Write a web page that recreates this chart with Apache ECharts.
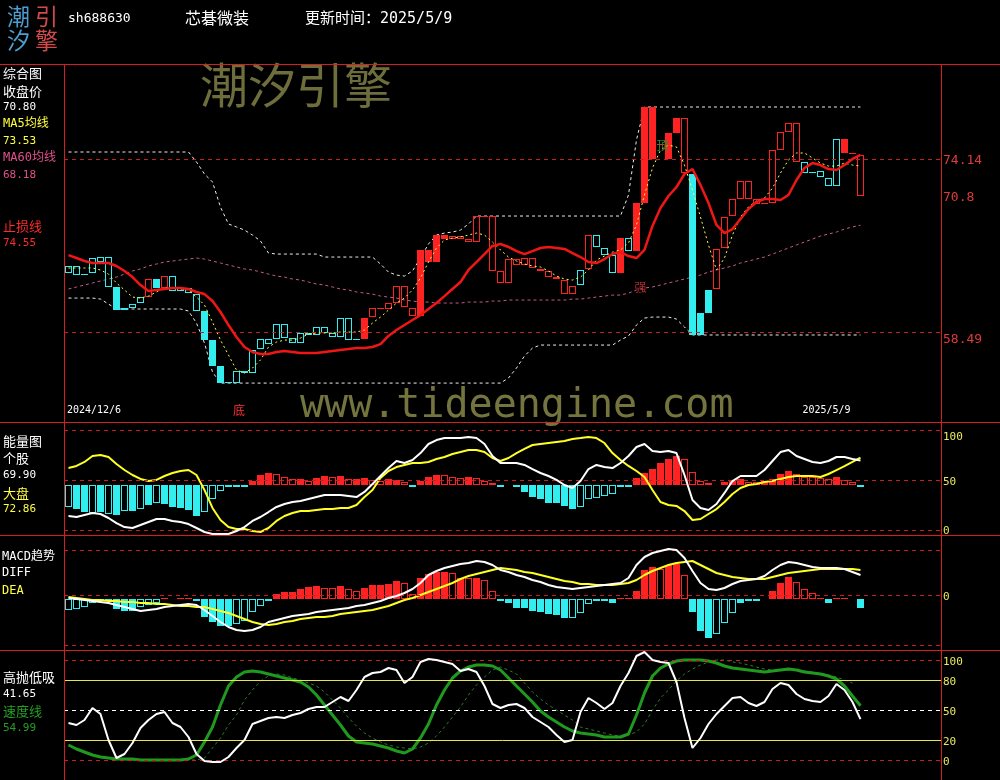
<!DOCTYPE html>
<html><head><meta charset="utf-8">
<script src="https://cdn.jsdelivr.net/npm/echarts@6/dist/echarts.min.js"></script>
<style>html,body{margin:0;padding:0;background:#000;}#c{width:1000px;height:780px;}</style>
</head><body><div id="c"></div>
<script>
// ---------------- DATA ----------------
const stockCode = 'sh688630';
const stockName = '芯碁微装';
const updateTime = '2025/5/9';
const dateLabels = ['2024/12/6', '2025/5/9'];

const candleOpen = [63.85,63.67,63.76,63.85,64.85,62.59,62.59,60.68,60.68,61.14,
61.68,63.31,62.50,62.23,62.23,62.04,60.42,60.42,57.79,55.44,
53.98,53.90,54.81,54.81,56.98,57.43,57.88,57.97,57.52,57.52,
58.25,58.25,58.43,58.07,58.07,57.79,57.88,57.88,59.87,60.60,
60.60,61.14,60.78,59.96,59.96,64.85,64.85,66.93,66.93,66.93,
66.66,66.66,68.92,64.04,62.95,62.95,64.58,64.58,64.31,64.04,
63.49,63.31,61.95,61.95,62.77,64.22,66.21,65.48,63.85,63.85,
65.84,65.84,70.19,74.17,75.50,74.17,76.52,77.88,72.81,60.24,
62.32,62.41,66.12,69.01,70.55,70.55,70.10,70.10,70.19,74.98,
76.61,77.42,73.90,72.90,72.54,71.72,71.72,75.98,74.71,74.53];
const candleClose = [64.49,64.49,63.67,65.21,65.30,65.30,60.51,60.51,61.05,61.68,
63.31,62.50,63.58,63.58,62.50,62.50,61.95,57.79,55.44,53.90,
53.90,54.99,54.99,56.89,57.88,57.88,59.24,59.24,57.97,58.43,
58.43,58.97,58.97,58.43,59.78,59.78,57.79,59.78,60.68,60.68,
61.14,62.68,62.68,60.68,65.94,65.94,67.29,67.29,67.20,67.20,
66.93,69.01,69.01,69.01,64.04,65.12,65.12,65.21,65.21,64.22,
64.04,63.49,63.22,62.68,64.13,67.29,67.29,66.12,65.48,67.02,
67.02,70.19,78.87,78.87,75.45,76.52,77.88,72.90,58.25,58.25,
60.24,66.03,68.92,70.55,72.18,72.18,70.55,70.19,74.98,76.61,
77.42,73.90,72.90,72.99,73.08,72.45,75.98,74.71,74.62,70.80];
// R = red, C = cyan ; F = filled, H = hollow
const candleKind = ['CH','CH','CF','CH','CH','CH','CF','CF','CH','CH',
'RH','CF','RH','CH','CH','CH','CH','CF','CF','CF',
'CF','CH','CH','CH','CH','CH','CH','CH','CH','CH',
'CH','CH','CH','CH','CH','CH','CF','RF','RH','RH',
'RH','RH','RH','RH','RF','RF','RF','RF','RH','RH',
'RH','RH','RH','RH','RH','RH','RH','RH','RH','RH',
'RH','RH','RH','RH','CH','RH','CH','CH','CH','RF',
'CH','RF','RF','RF','RF','RF','RF','RH','CF','CF',
'CF','RH','RH','RH','RH','RH','RH','RH','RH','RH',
'RH','RH','CH','CH','CH','CH','CH','RF','RF','RH'];

const stopLine = [65.48,65.21,64.94,64.76,64.76,64.76,64.49,64.04,63.49,62.77,
62.23,62.32,62.41,62.50,62.50,62.41,62.14,61.95,61.32,60.33,
59.15,58.07,57.16,56.71,56.53,56.53,56.71,56.80,56.71,56.62,
56.62,56.62,56.71,56.80,56.89,56.98,57.07,57.07,57.16,57.43,
58.16,58.70,59.15,59.60,60.05,60.60,61.14,61.77,62.41,63.04,
64.13,64.85,65.57,66.30,66.48,66.21,65.84,65.57,65.84,66.12,
66.21,66.12,66.03,65.66,65.30,64.85,64.76,65.12,65.57,65.75,
65.39,65.21,65.94,68.11,69.73,70.82,71.63,72.81,73.26,71.81,
70.19,68.20,67.47,67.83,68.74,69.64,70.28,70.55,70.55,70.46,
70.91,72.27,73.35,73.80,73.62,73.26,73.17,73.62,74.17,74.55];
const ma5 = [64.31,64.31,64.31,64.31,64.13,63.76,62.95,62.32,61.68,61.59,
61.77,62.14,62.50,62.50,62.41,62.32,61.68,60.96,59.42,57.79,
56.44,55.08,54.81,55.26,55.99,57.16,57.61,57.79,57.79,57.97,
58.34,58.43,58.43,58.43,58.52,58.52,58.52,58.70,59.33,59.87,
60.51,61.14,61.59,62.32,63.40,64.85,66.12,66.84,67.02,67.11,
67.29,67.47,67.29,66.66,65.94,65.30,64.94,64.67,64.49,64.40,
64.04,63.58,63.31,63.22,63.49,64.13,65.03,65.39,65.75,65.94,
66.57,68.20,70.91,73.35,74.98,75.43,75.25,73.62,71.36,68.92,
66.39,64.13,65.21,67.29,68.92,69.83,70.37,70.64,71.54,72.90,
74.08,74.71,74.71,74.26,73.80,73.53,73.53,73.80,73.62,73.53];
const ma60 = [62.41,62.59,62.77,62.95,63.13,63.31,63.49,63.76,64.04,64.22,
64.49,64.67,64.85,64.94,65.03,65.12,65.21,65.12,64.94,64.76,
64.58,64.40,64.22,64.13,63.95,63.76,63.58,63.49,63.31,63.22,
63.04,62.86,62.77,62.59,62.41,62.32,62.14,62.04,61.95,61.77,
61.68,61.59,61.41,61.32,61.23,61.23,61.14,61.14,61.14,61.14,
61.23,61.23,61.23,61.32,61.32,61.41,61.41,61.41,61.41,61.41,
61.41,61.41,61.41,61.50,61.50,61.59,61.68,61.77,61.86,61.86,
62.04,62.32,62.50,62.59,62.77,62.95,63.13,63.31,63.49,63.67,
63.95,64.13,64.31,64.49,64.76,64.94,65.12,65.30,65.57,65.84,
66.12,66.39,66.66,66.93,67.20,67.38,67.56,67.83,68.02,68.18];
const upperBand = [74.80,74.80,74.80,74.80,74.80,74.80,74.80,74.80,74.80,74.80,
74.80,74.80,74.80,74.80,74.80,74.80,73.90,72.81,72.09,69.82,
68.29,68.02,67.74,67.29,66.75,65.66,65.57,65.57,65.57,65.57,
65.57,65.57,65.30,65.30,65.30,65.30,65.30,65.30,65.30,64.67,
63.94,63.67,63.58,64.04,65.21,66.48,67.29,67.47,67.56,67.74,
68.29,69.01,69.01,69.01,69.01,69.01,69.01,69.01,69.01,69.01,
69.01,69.01,69.01,69.01,69.01,69.01,69.01,69.01,69.01,69.01,
70.91,75.89,78.87,78.87,78.87,78.87,78.87,78.87,78.87,78.87,
78.87,78.87,78.87,78.87,78.87,78.87,78.87,78.87,78.87,78.87,
78.87,78.87,78.87,78.87,78.87,78.87,78.87,78.87,78.87,78.87];
const lowerBand = [61.59,61.59,61.59,61.59,61.50,61.05,60.60,60.60,60.60,60.60,
60.60,60.60,60.60,60.60,60.60,60.42,59.33,57.52,54.90,53.90,
53.90,53.90,53.90,53.90,53.90,53.90,53.90,53.90,53.90,53.90,
53.90,53.90,53.90,53.90,53.90,53.90,53.90,53.90,53.90,53.90,
53.90,53.90,53.90,53.90,53.90,53.90,53.90,53.90,53.90,53.90,
53.90,53.90,53.90,53.90,53.90,54.36,55.26,56.35,57.07,57.34,
57.34,57.34,57.34,57.34,57.34,57.34,57.34,57.34,57.34,57.79,
58.16,59.15,59.78,59.87,59.87,59.87,59.69,58.97,58.25,58.25,
58.25,58.25,58.25,58.25,58.25,58.25,58.25,58.25,58.25,58.25,
58.25,58.25,58.25,58.25,58.25,58.25,58.25,58.25,58.25,58.25];
const priceLevels = [74.14, 70.8, 58.49];

// 能量图
const energyStock = [14.1,13.1,15.1,17.1,16.1,12.1,7.0,3.0,2.0,5.0,
8.1,11.1,11.1,9.1,8.1,6.0,2.0,-2.0,-4.0,-4.0,
-4.0,-1.0,3.0,9.1,13.1,18.1,23.2,26.2,28.2,29.2,
31.2,33.2,35.2,35.2,35.2,34.2,33.2,38.3,46.3,54.4,
62.4,69.5,67.5,70.5,77.5,86.6,90.6,92.6,92.6,92.6,
93.7,92.6,86.6,74.5,67.5,67.5,67.5,65.5,61.4,57.4,
54.4,50.4,45.3,42.3,49.3,61.4,65.5,63.4,62.4,67.5,
74.5,83.6,86.6,79.6,78.5,79.6,77.5,55.4,30.2,22.2,
20.1,26.2,37.3,49.3,54.4,54.4,54.4,60.4,69.5,78.5,
80.6,74.5,71.5,68.5,67.5,69.5,73.5,73.5,71.5,69.90];
const energyMarket = [62.4,64.5,68.5,74.5,75.5,73.5,66.5,60.4,55.4,51.4,
49.3,50.4,54.4,57.4,59.4,60.4,55.4,40.3,22.2,10.1,
3.0,1.0,1.0,-1.0,-2.0,2.0,9.1,14.1,17.1,19.1,
19.1,20.1,21.1,21.1,22.2,22.2,25.2,33.2,40.3,52.4,
59.4,63.4,65.5,67.5,67.5,68.5,71.5,73.5,76.5,78.5,
80.6,80.6,78.5,72.5,69.5,72.5,77.5,81.6,85.6,86.6,
87.6,88.6,89.6,91.6,92.6,93.7,92.6,87.6,77.5,70.5,
64.5,59.4,53.4,40.3,28.2,25.2,24.2,19.1,10.1,11.1,
16.1,21.1,28.2,36.3,42.3,45.3,46.3,48.3,49.3,51.4,
53.4,54.4,54.4,54.4,53.4,56.4,60.4,64.4,68.5,72.86];
const energyBar = [-23,-25,-28,-29,-28,-30,-31,-27,-27,-25,
-21,-19,-20,-23,-24,-26,-32,-28,-15,-7,
-3,-2,-2,3.5,9.5,11.5,10.5,7.5,5.5,5.5,
3.5,6.5,8.5,7.5,8.5,5.5,5.5,6.5,4.5,3.5,
5.5,4.5,2.5,-2,3.5,7.5,9.5,9.5,7.5,6.5,
7.5,6.5,3.5,1.5,-2,0,-2,-8,-13,-15,
-19,-19,-22,-25,-23,-15,-14,-12,-10,-2,
-2,6.5,11.5,15.5,21.5,25.5,28.5,25.5,12.5,3.5,
1.5,0,2.5,3.5,5.5,2.5,2.5,3.5,5.5,10.5,
13.5,10.5,7.5,7.5,6.5,5.5,7.5,4.5,2.5,-2];
const energyBarKind = ['CH','CF','CF','CH','CF','CH','CF','CH','CF','CH',
'CF','CH','CF','CF','CF','CF','CF','CH','CH','CH',
'CH','CF','CF','RF','RF','RF','RH','RH','RH','RF',
'RH','RF','RF','RH','RF','RH','RF','RF','RH','RH',
'RF','RF','RH','CF','RF','RF','RF','RH','RH','RH',
'RF','RH','RH','RH','CF','CF','CF','CF','CF','CF',
'CF','CF','CF','CF','CH','CH','CH','CH','CH','CF',
'CF','RF','RF','RF','RF','RF','RF','RH','RH','RH',
'RH','RH','RF','RF','RF','RH','RH','RF','RF','RF',
'RF','RH','RH','RH','RH','RH','RF','RH','RH','CF'];
const energyLevels = [100, 50, 0];

// MACD趋势
const macdDiff = [-0.27,-0.37,-0.47,-0.57,-0.67,-0.77,-0.97,-1.17,-1.37,-1.57,
-1.47,-1.37,-1.17,-1.07,-0.97,-0.87,-0.97,-1.47,-2.07,-2.67,
-3.17,-3.47,-3.57,-3.47,-3.17,-2.67,-2.47,-2.27,-2.07,-1.97,
-1.87,-1.67,-1.57,-1.47,-1.37,-1.27,-1.07,-0.97,-0.77,-0.57,
-0.27,-0.07,0.23,0.63,1.23,2.03,2.43,2.73,2.93,3.13,
3.23,3.43,3.33,3.03,2.53,2.33,2.03,1.83,1.53,1.33,
1.03,0.83,0.73,0.63,0.73,0.83,0.93,1.03,1.13,1.23,
1.73,3.03,3.83,4.23,4.43,4.63,4.53,3.73,2.43,1.23,
0.63,0.53,0.73,1.13,1.43,1.53,1.63,1.93,2.53,3.03,
3.33,3.23,3.03,2.83,2.73,2.73,2.73,2.63,2.33,2.03];
const macdDea = [-0.17,-0.27,-0.37,-0.47,-0.47,-0.57,-0.57,-0.67,-0.67,-0.77,
-0.77,-0.87,-0.87,-0.97,-1.07,-1.07,-1.17,-1.17,-1.37,-1.57,
-1.77,-2.07,-2.37,-2.67,-2.87,-2.97,-2.87,-2.67,-2.57,-2.37,
-2.27,-2.17,-2.17,-2.07,-1.87,-1.77,-1.67,-1.57,-1.47,-1.27,
-1.07,-0.77,-0.47,-0.27,0.03,0.33,0.63,0.93,1.23,1.63,
1.93,2.13,2.33,2.53,2.73,2.63,2.53,2.33,2.23,2.03,
1.83,1.63,1.43,1.33,1.13,1.13,1.03,1.03,1.03,1.13,
1.23,1.53,2.03,2.43,2.73,3.03,3.23,3.33,3.43,3.03,
2.63,2.23,2.03,1.83,1.73,1.63,1.63,1.63,1.83,2.03,
2.23,2.33,2.43,2.53,2.63,2.63,2.63,2.63,2.63,2.53];
const macdBar = [-1.1,-1.0,-0.8,-0.4,-0.2,-0.2,-1.0,-1.2,-1.2,-0.8,
-0.6,-0.4,0.1,0,0.1,0.1,-0.2,-1.8,-2.3,-2.7,
-2.7,-2.5,-2.2,-1.3,-0.7,-0.2,0.5,0.7,0.7,1.0,
1.2,1.3,1.1,1.1,1.3,1.0,0.8,1.1,1.4,1.4,
1.5,1.8,1.6,0.5,2.1,2.5,2.7,2.7,2.6,2.1,
2.1,2.1,1.9,0.8,-0.2,-0.4,-0.9,-0.9,-1.2,-1.3,
-1.5,-1.6,-1.9,-1.9,-1.4,-0.5,-0.2,-0.2,-0.4,0.1,
0.1,0.8,2.9,3.2,3.0,3.4,3.5,2.4,-1.3,-3.2,
-3.9,-3.5,-2.4,-1.4,-0.4,-0.2,-0.2,0,0.8,1.6,
2.2,1.7,1.0,0.6,0.1,-0.4,0.1,0.1,0,-0.9];
const macdBarKind = ['CH','CH','CH','CH','CH','CH','CF','CF','CF','CH',
'CH','CH','RH','RH','RH','RH','CF','CF','CF','CF',
'CF','CH','CH','CH','CH','CF','RF','RF','RF','RF',
'RF','RF','RH','RH','RF','RH','RH','RF','RF','RF',
'RF','RF','RH','RH','RF','RF','RF','RF','RH','RF',
'RH','RF','RH','RH','CF','CF','CF','CF','CF','CF',
'CF','CF','CF','CH','CH','CH','CF','CF','CF','RH',
'RH','RF','RF','RF','RH','RF','RF','RH','CF','CF',
'CF','CH','CH','CH','CF','CF','CF','RH','RF','RF',
'RF','RH','RH','RH','RF','CF','RH','RH','RH','CF'];
const macdLevels = [4.46, 0, -4.97];

// 高抛低吸
const hlWhite = [37.7,35.7,40.7,52.7,46.7,20.7,2.7,6.7,17.7,32.7,
40.7,46.7,48.7,37.7,33.7,23.7,6.7,-0.3,-1.3,-1.3,
3.7,12.7,20.7,36.7,39.7,42.7,43.7,42.7,45.7,47.7,
51.7,53.7,53.7,58.7,63.7,59.7,70.7,83.7,87.7,88.7,
92.7,90.7,77.7,83.7,98.7,101.7,100.7,98.7,96.7,89.7,
91.7,88.7,74.7,56.7,52.7,55.7,56.7,52.7,43.7,38.7,
33.7,25.7,18.7,20.7,48.7,62.7,57.7,51.7,57.7,74.7,
87.7,104.7,108.7,100.7,98.7,97.7,78.7,42.7,12.7,22.7,
36.7,46.7,54.7,62.7,63.7,57.7,54.7,58.7,71.7,77.7,
75.7,66.7,61.7,59.7,58.7,64.7,76.7,70.7,58.7,41.65];
const hlSpeed = [15.7,11.7,8.7,5.7,3.7,2.7,1.7,1.7,1.7,0.7,
0.7,0.7,0.7,0.7,0.7,1.7,5.7,18.7,33.7,55.7,
74.7,83.7,88.7,89.7,88.7,86.7,84.7,82.7,80.7,78.7,
73.7,65.7,55.7,45.7,35.7,24.7,18.7,17.7,16.7,14.7,
12.7,9.7,7.7,11.7,22.7,36.7,55.7,70.7,82.7,89.7,
93.7,95.7,95.7,94.7,90.7,82.7,74.7,66.7,58.7,49.7,
43.7,38.7,33.7,29.7,27.7,26.7,25.7,23.7,23.7,23.7,
26.7,45.7,67.7,84.7,92.7,96.7,99.7,100.7,100.7,100.7,
99.7,97.7,94.7,92.7,91.7,90.7,89.7,88.7,89.7,90.7,
91.7,90.7,88.7,87.7,86.7,84.7,81.7,74.7,64.7,54.99];
const hlSpeedSlow = [15.7,11.7,8.7,5.7,3.7,2.7,1.7,0.7,0.7,0.7,
0.7,0.7,0.7,0.7,0.7,0.7,0.7,2.7,12.7,22.7,
35.7,45.7,60.7,70.7,79.7,84.7,86.7,85.7,82.7,80.7,
77.7,74.7,68.7,60.7,52.7,42.7,34.7,27.7,22.7,18.7,
15.7,13.7,12.7,11.7,13.7,17.7,24.7,33.7,43.7,53.7,
65.7,75.7,83.7,90.7,93.7,90.7,86.7,77.7,68.7,61.7,
55.7,50.7,45.7,40.7,33.7,31.7,29.7,27.7,25.7,24.7,
25.7,28.7,36.7,50.7,62.7,70.7,79.7,86.7,91.7,95.7,
98.7,100.7,100.7,98.7,97.7,95.7,93.7,91.7,90.7,90.7,
90.7,90.7,89.7,88.7,87.7,85.7,83.7,80.7,77.7,null];
const hlLevels = [100, 80, 50, 20, 0];

// ---------------- STYLE / LAYOUT ----------------
const RED = '#ff2222', CYAN = '#33eeee', DASH_RED = '#c42222', FRAME = '#d61e1e';
const YEL = '#ffff40', LBL_Y = '#e8e860', PINK = '#c65a8e', GREEN = '#1f9a1f';
const MONO = '"DejaVu Sans Mono", "Noto Sans CJK SC", monospace';
const CJK = '"Noto Sans CJK SC", sans-serif';
const X_MIN = -0.56, X_MAX = X_MIN + 877 / 8;
const grids = [
  {left: 64, top: 64, width: 877, height: 358},
  {left: 64, top: 422, width: 877, height: 113},
  {left: 64, top: 535, width: 877, height: 115},
  {left: 64, top: 650, width: 877, height: 130}
];
const yRanges = [[50.38, 82.76], [-5.035, 108.76], [-5.47, 6.03], [-19.3, 110.7]];
const ENERGY_BAR_BASE = 45.8;
const MACD_BAR_BASE = -0.37;

const pairs = arr => arr.map((v, i) => [i, v]);
const last = arr => arr[arr.length - 1];

// box drawn only with filled rects (hollow = four 1px edges)
function boxRenderer(kinds, getEnds) {
  return function (params, api) {
    const i = api.value(0);
    const ends = getEnds(api, i);
    if (!ends) return null;
    const a = api.coord([i, ends[0]]), b = api.coord([i, ends[1]]);
    const x0 = Math.round(a[0] - 3.5);
    const y0 = Math.round(Math.min(a[1], b[1]));
    const y1 = Math.max(Math.round(Math.max(a[1], b[1])), y0 + 1);
    const W = 7, H = y1 - y0;
    const k = kinds[i];
    const col = k[0] === 'R' ? RED : CYAN;
    const r = (x, y, w, h) => ({type: 'rect', shape: {x: x, y: y, width: w, height: h}, style: {fill: col}});
    if (k[1] === 'F' || H <= 2) {
      return r(x0, y0, W, H);
    }
    return {type: 'group', children: [
      r(x0, y0, W, 1), r(x0, y1 - 1, W, 1), r(x0, y0, 1, H), r(x0 + W - 1, y0, 1, H)
    ]};
  };
}

function lineSeries(name, data, k, color, width, dash, z, extra) {
  return Object.assign({
    name: name, type: 'line', xAxisIndex: k, yAxisIndex: k, data: pairs(data),
    showSymbol: false, symbol: 'none', silent: true, z: z, connectNulls: false,
    lineStyle: {color: color, width: width, type: dash || 'solid'}
  }, extra || {});
}

function levelLine(value, color, dash, label, labelColor, fontSize, offsetY) {
  const item = {yAxis: value, lineStyle: {color: color, type: dash, width: 1}};
  item.label = label === null ? {show: false} : {
    show: true, position: 'end', distance: 2, formatter: label, color: labelColor,
    fontFamily: MONO, fontSize: fontSize, offset: [0, offsetY || 0]
  };
  return item;
}

function hostSeries(k, items) {
  return {
    type: 'line', xAxisIndex: k, yAxisIndex: k, data: [[0, null]], showSymbol: false, z: 1, silent: true,
    lineStyle: {opacity: 0},
    markLine: {silent: true, symbol: ['none', 'none'], animation: false, data: items}
  };
}

const annotations = [
  {text: dateLabels[0], x: 3.19, y: 51.46, color: '#ffffff', size: 10, font: MONO},
  {text: dateLabels[1], x: 94.75, y: 51.46, color: '#ffffff', size: 10, font: MONO},
  {text: '底', x: 21.3, y: 51.46, color: '#ff3030', size: 12, font: CJK},
  {text: '强', x: 71.5, y: 62.59, color: '#b02a2a', size: 12, font: CJK},
  {text: '顶', x: 74.25, y: 75.39, color: '#2e8b2e', size: 12, font: CJK}
];

function txt(text, x, y, color, font, z) {
  return {type: 'text', z: z === undefined ? 20 : z, silent: true,
    style: {text: text, x: x, y: y, fill: color, font: font,
      textAlign: 'left', textVerticalAlign: 'middle', align: 'left', verticalAlign: 'middle'}};
}
function hline(y, x1, x2) {
  return {type: 'line', z: 30, silent: true, shape: {x1: x1, y1: y + 0.5, x2: x2, y2: y + 0.5},
    style: {stroke: FRAME, lineWidth: 1}};
}
function vline(x, y1, y2) {
  return {type: 'line', z: 30, silent: true, shape: {x1: x + 0.5, y1: y1, x2: x + 0.5, y2: y2},
    style: {stroke: FRAME, lineWidth: 1}};
}

const graphics = [
  // watermark
  txt('潮汐引擎', 200, 85, '#6e6e3c', '48px ' + CJK, 0),
  txt('www.tideengine.com', 300, 407, '#74743f', '40px "DejaVu Sans Mono", monospace', 0),
  // logo
  txt('潮', 7, 16, '#4d9dcf', '23px ' + CJK), txt('引', 35, 16, '#d24b4b', '23px ' + CJK),
  txt('汐', 7, 40, '#4d9dcf', '23px ' + CJK), txt('擎', 35, 40, '#d24b4b', '23px ' + CJK),
  // header
  txt(stockCode, 68, 19, '#ffffff', '13px ' + MONO),
  txt(stockName, 185, 18, '#ffffff', '16px ' + CJK),
  txt('更新时间：' + updateTime, 305, 19, '#ffffff', '15px ' + MONO),
  // main panel legend
  txt('综合图', 3, 73, '#ffffff', '13px ' + CJK),
  txt('收盘价', 3, 91, '#ffffff', '13px ' + CJK),
  txt(last(candleClose).toFixed(2), 3, 107, '#ffffff', '11px ' + MONO),
  txt('MA5均线', 3, 124, YEL, '12px ' + MONO),
  txt(last(ma5).toFixed(2), 3, 141, YEL, '11px ' + MONO),
  txt('MA60均线', 3, 158, '#e0508c', '12px ' + MONO),
  txt(last(ma60).toFixed(2), 3, 175, '#e0508c', '11px ' + MONO),
  txt('止损线', 3, 226, '#ff2a2a', '13px ' + CJK),
  txt(last(stopLine).toFixed(2), 3, 243, '#ff2a2a', '11px ' + MONO),
  // energy legend
  txt('能量图', 3, 441, '#ffffff', '13px ' + CJK),
  txt('个股', 3, 458, '#ffffff', '13px ' + CJK),
  txt(last(energyStock).toFixed(2), 3, 475, '#ffffff', '11px ' + MONO),
  txt('大盘', 3, 493, YEL, '13px ' + CJK),
  txt(last(energyMarket).toFixed(2), 3, 509, YEL, '11px ' + MONO),
  // macd legend
  txt('MACD趋势', 2, 557, '#ffffff', '12px ' + MONO),
  txt('DIFF', 2, 573, '#ffffff', '12px ' + MONO),
  txt('DEA', 2, 591, YEL, '12px ' + MONO),
  // bottom legend
  txt('高抛低吸', 3, 677, '#ffffff', '13px ' + CJK),
  txt(last(hlWhite).toFixed(2), 3, 694, '#ffffff', '11px ' + MONO),
  txt('速度线', 3, 711, '#22a022', '13px ' + CJK),
  txt(last(hlSpeed).toFixed(2), 3, 728, '#22a022', '11px ' + MONO),
  // frame
  hline(64, 0, 1000), hline(422, 0, 1000), hline(535, 0, 1000), hline(650, 0, 1000),
  vline(64, 64, 780), vline(941, 64, 780)
];

const D = [4, 4];
const series = [
  // ---- main panel ----
  hostSeries(0, [
    levelLine(priceLevels[0], DASH_RED, D, String(priceLevels[0]), '#dd3b3b', 13, 1.5),
    levelLine(priceLevels[1], 'rgba(0,0,0,0)', D, String(priceLevels[1]), '#dd3b3b', 13, 1.5),
    levelLine(priceLevels[2], DASH_RED, D, String(priceLevels[2]), '#dd3b3b', 13, 7)
  ]),
  lineSeries('upper', upperBand, 0, '#eeeeee', 1, [3, 3], 2),
  lineSeries('lower', lowerBand, 0, '#eeeeee', 1, [3, 3], 2),
  lineSeries('MA60', ma60, 0, PINK, 1, [3, 3], 2),
  {
    type: 'custom', xAxisIndex: 0, yAxisIndex: 0, z: 3, silent: true, clip: false,
    encode: {x: 0, y: [1, 2]},
    data: candleOpen.map((o, i) => [i, o, candleClose[i]]),
    renderItem: boxRenderer(candleKind, (api, i) => [api.value(1), api.value(2)])
  },
  lineSeries('MA5', ma5, 0, YEL, 1, [2, 3], 4),
  lineSeries('止损线', stopLine, 0, '#f01616', 2.5, 'solid', 5, {
    markPoint: {
      silent: true, animation: false, symbol: 'circle', symbolSize: 1,
      itemStyle: {color: 'rgba(0,0,0,0)'},
      data: annotations.map(a => ({
        coord: [a.x, a.y],
        label: {show: true, position: 'inside', formatter: a.text, color: a.color,
          fontSize: a.size, fontFamily: a.font}
      }))
    }
  }),
  // ---- energy ----
  hostSeries(1, energyLevels.map((v, j) =>
    levelLine(v, DASH_RED, D, String(v), LBL_Y, 11, j === 0 ? 6 : 1.5))),
  {
    type: 'custom', xAxisIndex: 1, yAxisIndex: 1, z: 3, silent: true,
    encode: {x: 0, y: 1}, data: pairs(energyBar),
    renderItem: boxRenderer(energyBarKind, (api, i) => {
      const v = api.value(1);
      return v ? [ENERGY_BAR_BASE, ENERGY_BAR_BASE + v] : null;
    })
  },
  lineSeries('大盘', energyMarket, 1, '#ffff22', 2, 'solid', 4),
  lineSeries('个股', energyStock, 1, '#ffffff', 2, 'solid', 5),
  // ---- MACD ----
  hostSeries(2, [
    levelLine(macdLevels[0], DASH_RED, D, null),
    levelLine(macdLevels[1], DASH_RED, D, String(macdLevels[1]), LBL_Y, 11, 1.5),
    levelLine(macdLevels[2], DASH_RED, D, null)
  ]),
  {
    type: 'custom', xAxisIndex: 2, yAxisIndex: 2, z: 3, silent: true,
    encode: {x: 0, y: 1}, data: pairs(macdBar),
    renderItem: boxRenderer(macdBarKind, (api, i) => {
      const v = api.value(1);
      return v ? [MACD_BAR_BASE, MACD_BAR_BASE + v] : null;
    })
  },
  lineSeries('DEA', macdDea, 2, '#ffff22', 2, 'solid', 4),
  lineSeries('DIFF', macdDiff, 2, '#ffffff', 2, 'solid', 5),
  // ---- 高抛低吸 ----
  hostSeries(3, [
    levelLine(hlLevels[0], DASH_RED, D, String(hlLevels[0]), LBL_Y, 11, 1.5),
    levelLine(hlLevels[1], '#e6e64a', 'solid', String(hlLevels[1]), LBL_Y, 11, 1.5),
    levelLine(hlLevels[2], '#ffffff', D, String(hlLevels[2]), LBL_Y, 11, 1.5),
    levelLine(hlLevels[3], '#e6e64a', 'solid', String(hlLevels[3]), LBL_Y, 11, 1.5),
    levelLine(hlLevels[4], DASH_RED, D, String(hlLevels[4]), LBL_Y, 11, 1)
  ]),
  lineSeries('速度慢线', hlSpeedSlow, 3, '#2c7a2c', 1, [3, 3], 3),
  lineSeries('速度线', hlSpeed, 3, GREEN, 3, 'solid', 4),
  lineSeries('高抛低吸', hlWhite, 3, '#ffffff', 2, 'solid', 5)
];

const chart = echarts.init(document.getElementById('c'), null, {renderer: 'canvas', width: 1000, height: 780});
chart.setOption({
  backgroundColor: '#000000',
  animation: false,
  grid: grids,
  xAxis: grids.map((g, k) => ({type: 'value', gridIndex: k, min: X_MIN, max: X_MAX, show: false})),
  yAxis: yRanges.map((r, k) => ({type: 'value', gridIndex: k, min: r[0], max: r[1], show: false, scale: true})),
  graphic: graphics,
  series: series
});
</script>
</body></html>
